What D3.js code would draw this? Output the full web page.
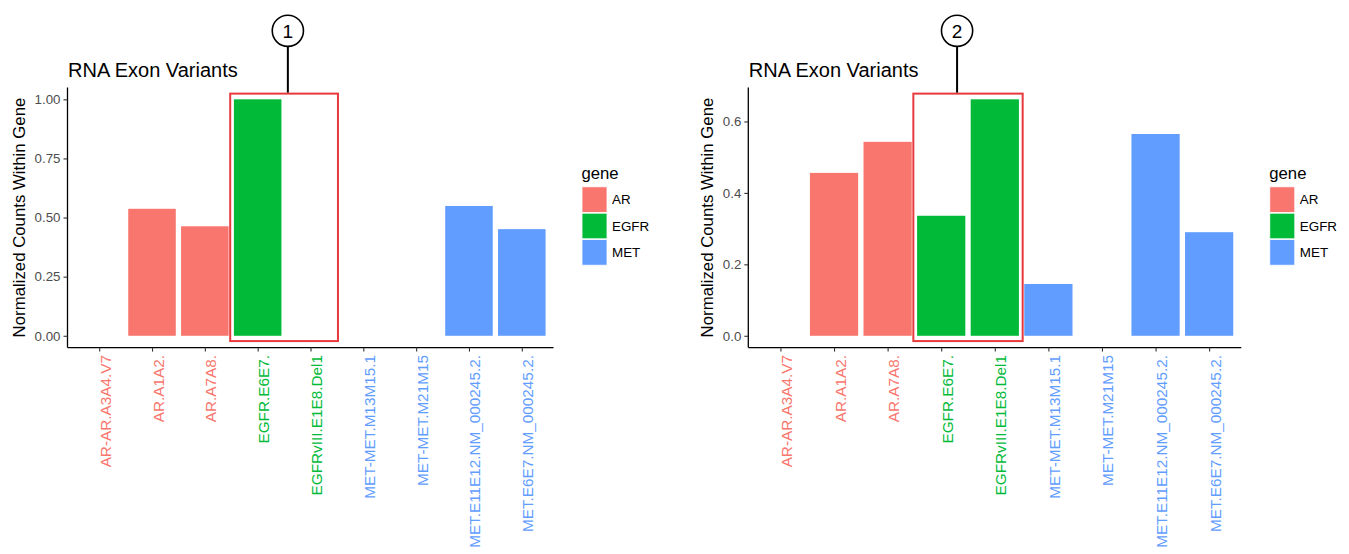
<!DOCTYPE html>
<html>
<head>
<meta charset="utf-8">
<script src="https://cdn.jsdelivr.net/npm/d3@7"></script>
<style>
  html, body { margin: 0; padding: 0; background: #fff; }
  svg { display: block; font-family: "Liberation Sans", Arial, Helvetica, sans-serif; }
</style>
</head>
<body>
<svg id="chart" width="1349" height="554"></svg>
<script>
// ---- data ----
const categories = [
  "AR-AR.A3A4.V7", "AR.A1A2.", "AR.A7A8.", "EGFR.E6E7.", "EGFRvIII.E1E8.Del1",
  "MET-MET.M13M15.1", "MET-MET.M21M15", "MET.E11E12.NM_000245.2.", "MET.E6E7.NM_000245.2."
];
const categoryGene = ["AR", "AR", "AR", "EGFR", "EGFR", "MET", "MET", "MET", "MET"];
const genes = ["AR", "EGFR", "MET"];
const geneColors = ["#F8766D", "#00BA38", "#619CFF"];
const valuesPanel1 = [0, 0.537, 0.463, 1.0, 0, 0, 0, 0.549, 0.451];
const valuesPanel2 = [0, 0.456, 0.543, 0.336, 0.662, 0.145, 0, 0.565, 0.290];
const ticksPanel1 = [0, 0.25, 0.5, 0.75, 1.0];
const ticksPanel2 = [0, 0.2, 0.4, 0.6];
const tickFormat1 = ".2f";
const tickFormat2 = ".1f";
const chartTitle = "RNA Exon Variants";
const yTitle = "Normalized Counts Within Gene";
const legendTitle = "gene";
const calloutLabels = ["1", "2"];
const highlighted = ["EGFR.E6E7.", "EGFRvIII.E1E8.Del1"];

const svg = d3.select("#chart");
const color = d3.scaleOrdinal().domain(genes).range(geneColors);

const panels = [
  { values: valuesPanel1, ticks: ticksPanel1, fmt: tickFormat1, x0: 67.5, x1: 553.5, callout: calloutLabels[0], calloutFrac: 0.535 },
  { values: valuesPanel2, ticks: ticksPanel2, fmt: tickFormat2, x0: 748.3, x1: 1241.3, callout: calloutLabels[1], calloutFrac: 0.40 }
];
const yTop = 87.5, yBottom = 347.6;

panels.forEach(p => {
  const g = svg.append("g");
  const vmax = d3.max(p.values);
  const y = d3.scaleLinear().domain([-0.05 * vmax, vmax * 1.05]).range([yBottom, yTop]);
  const x = d3.scalePoint().domain(categories).range([p.x0, p.x1]).padding(0.6);
  const step = x.step();
  const bw = step * 0.9;

  // bars
  g.selectAll("rect.bar")
    .data(categories.map((c, i) => ({ c, v: p.values[i], gene: categoryGene[i] })).filter(d => d.v > 0))
    .join("rect")
    .attr("class", "bar")
    .attr("x", d => x(d.c) - bw / 2)
    .attr("width", bw)
    .attr("y", d => y(d.v))
    .attr("height", d => y(0) - y(d.v))
    .attr("fill", d => color(d.gene));

  // y axis
  const yAxis = g.append("g").attr("transform", `translate(${p.x0},0)`)
    .call(d3.axisLeft(y).tickValues(p.ticks).tickFormat(d3.format(p.fmt)).tickSize(4).tickPadding(3));
  yAxis.select(".domain").attr("d", `M0,${yTop}V${yBottom}`).attr("stroke", "#000").attr("stroke-width", 1.3);
  yAxis.selectAll(".tick line").attr("stroke", "#333").attr("stroke-width", 1.1);
  yAxis.selectAll(".tick text").attr("fill", "#4D4D4D").style("font-size", "13.3px")
    .style("font-family", "'Liberation Sans', Arial, sans-serif");

  // x axis
  const xAxis = g.append("g").attr("transform", `translate(0,${yBottom})`)
    .call(d3.axisBottom(x).tickSize(4).tickFormat(""));
  xAxis.select(".domain").attr("d", `M${p.x0},0H${p.x1}`).attr("stroke", "#000").attr("stroke-width", 1.3);
  xAxis.selectAll(".tick line").attr("stroke", "#333").attr("stroke-width", 1.1);
  xAxis.selectAll(".tick").append("text")
    .attr("transform", "rotate(-90)")
    .attr("x", -7.5)
    .attr("y", 11)
    .attr("text-anchor", "end")
    .attr("fill", (d, i) => color(categoryGene[i]))
    .style("font-size", "15.3px")
    .style("font-family", "'Liberation Sans', Arial, sans-serif")
    .text(d => d);

  // tick label extent for y-title placement
  let minLeft = Infinity;
  yAxis.selectAll(".tick text").each(function () {
    const w = this.getComputedTextLength();
    minLeft = Math.min(minLeft, p.x0 - 7 - w);
  });

  // y title
  g.append("text")
    .attr("transform", `translate(${minLeft - 10},${(yTop + yBottom) / 2}) rotate(-90)`)
    .attr("text-anchor", "middle")
    .style("font-size", "16.8px")
    .attr("fill", "#000")
    .text(yTitle);

  // chart title
  g.append("text")
    .attr("x", p.x0 + 0.5)
    .attr("y", 76.5)
    .style("font-size", "20px")
    .attr("fill", "#000")
    .text(chartTitle);

  // legend
  const lg = g.append("g").attr("transform", `translate(${p.x1 + 28},0)`);
  lg.append("text").attr("x", 0).attr("y", 179).style("font-size", "16.7px").attr("fill", "#000").text(legendTitle);
  genes.forEach((gn, i) => {
    lg.append("rect").attr("x", 0.5).attr("y", 186.8 + i * 26.4).attr("width", 25).attr("height", 25.6)
      .attr("fill", color(gn)).attr("stroke", "#fff").attr("stroke-width", 0.8);
    lg.append("text").attr("x", 30.5).attr("y", 186.8 + i * 26.4 + 12.8).attr("dy", "0.35em")
      .style("font-size", "13.4px").attr("fill", "#000").text(gn);
  });

  // annotation box around highlighted categories
  const hx0 = x(highlighted[0]) - step * 0.52;
  const hx1 = x(highlighted[1]) + step * 0.52;
  const hy0 = y(vmax) - 5.7;
  const hy1 = y(0) + 5.3;
  g.append("rect").attr("x", hx0).attr("y", hy0).attr("width", hx1 - hx0).attr("height", hy1 - hy0)
    .attr("fill", "none").attr("stroke", "#E8393D").attr("stroke-width", 2);
  const cx = hx0 + (hx1 - hx0) * p.calloutFrac;
  const cy = 30.8, r = 15.6;
  g.append("line").attr("x1", cx).attr("x2", cx).attr("y1", cy + r).attr("y2", hy0 - 1)
    .attr("stroke", "#000").attr("stroke-width", 2);
  g.append("circle").attr("cx", cx).attr("cy", cy).attr("r", r)
    .attr("fill", "#fff").attr("stroke", "#000").attr("stroke-width", 1.6);
  g.append("text").attr("x", cx).attr("y", cy).attr("dy", "0.36em").attr("text-anchor", "middle")
    .style("font-size", "19px").attr("fill", "#000").text(p.callout);
});
</script>
</body>
</html>
